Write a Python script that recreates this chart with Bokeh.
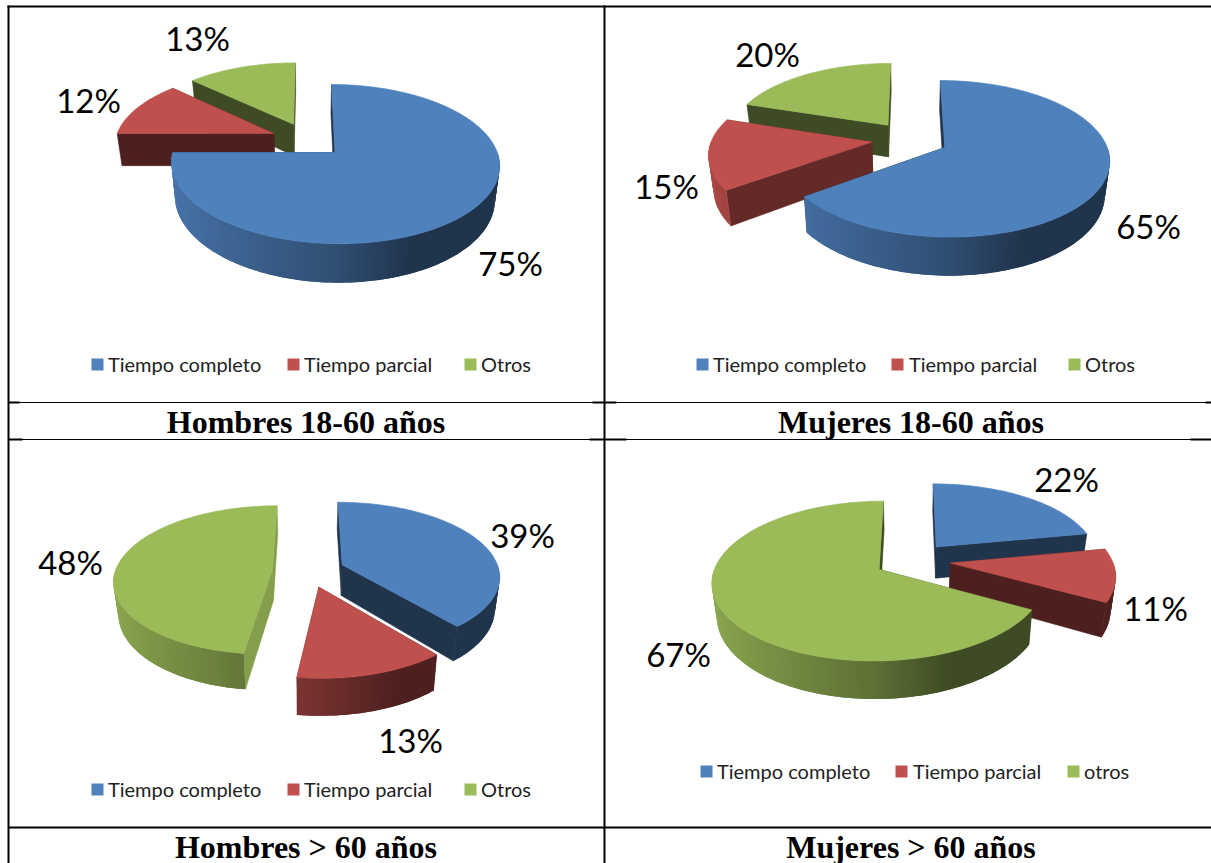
import math
from bokeh.plotting import figure
from bokeh.models import Range1d, ColumnDataSource
from bokeh.core.properties import value
from bokeh.embed import file_html
from bokeh.resources import INLINE

# ---------- data ----------
panel_titles = ["Hombres 18-60 años", "Mujeres 18-60 años", "Hombres > 60 años", "Mujeres > 60 años"]
series_names = ["Tiempo completo", "Tiempo parcial", "Otros"]
series_names_last = ["Tiempo completo", "Tiempo parcial", "otros"]
hombres_18_60 = [75, 12, 13]
mujeres_18_60 = [65, 15, 20]
hombres_60 = [39, 13, 48]
mujeres_60 = [22, 11, 67]
series_colors = ["#4F81BD", "#C0504D", "#9BBB59"]

# ---------- layout ----------
K = 0.142          # perspective strength
SHRINK = 0.975     # lower face is a little narrower
layout = [
    dict(vals=hombres_18_60, names=series_names, cx=307.5, cy=139.4, rx=158.5, ay=74.3, e=0.235, d=32.5,
         label_pos=[(510, 262.5), (88, 99.5), (197, 37.5)],
         leg_y=363, leg_sq=[97, 293, 470], leg_tx=[107.5, 303.5, 480.5], title=(305.5, 421)),
    dict(vals=mujeres_18_60, names=series_names, cx=909.5, cy=138.8, rx=160, ay=74.3, e=0.24, d=32.5,
         label_pos=[(1148, 225.5), (666, 185.5), (767, 53.5)],
         leg_y=363, leg_sq=[702, 897, 1074], leg_tx=[712.5, 908.5, 1084.5], title=(910.5, 421)),
    dict(vals=hombres_60, names=series_names, cx=308, cy=570, rx=157, ay=73, e=0.23, d=31,
         label_pos=[(522, 534.5), (410, 739.5), (70, 561.5)],
         leg_y=788, leg_sq=[97, 293, 470], leg_tx=[107.5, 303.5, 480.5], title=(305.5, 846)),
    dict(vals=mujeres_60, names=series_names_last, cx=912, cy=559.8, rx=162, ay=75.6, e=0.235, d=32,
         label_pos=[(1066, 478.5), (1155, 607.5), (678, 653.5)],
         leg_y=770, leg_sq=[706, 901, 1073], leg_tx=[716.5, 912.5, 1083.5], title=(910.5, 846)),
]
# radial faces that catch more light than the default dark tone: (panel, slice) -> factor
wall_light = {(2, 2): 0.85, (1, 1): 0.52}


def shade(col, f):
    r, g, b = [int(col[i:i + 2], 16) for i in (1, 3, 5)]
    return "#%02x%02x%02x" % (round(r * f), round(g * f), round(b * f))


def rim_factor(theta):
    s = math.sin(theta)
    if s >= 0.4:
        return 0.4
    if s >= 0:
        return 0.6 - 0.2 * s / 0.4
    return 0.6 + 0.3 * (-s)


xs, ys, fills, strokes = [], [], [], []


def add(poly, col, stroke=1.0):
    xs.append([q[0] for q in poly])
    ys.append([q[1] for q in poly])
    fills.append(col)
    strokes.append(stroke)


for pi, pie in enumerate(layout):
    cx, cy, rx, ay, e, d = pie["cx"], pie["cy"], pie["rx"], pie["ay"], pie["e"], pie["d"]

    def top(X, Y):
        w = 1 - K * Y
        return (cx + rx * X / w, cy + ay * Y / w)

    def low(X, Y):
        w = 1 - K * Y
        px, py = top(X, Y)
        return (cx + (px - cx) * SHRINK, py + d / w)

    total = sum(pie["vals"])
    slices = []
    start = 0.0
    for si, v in enumerate(pie["vals"]):
        sweep = 2 * math.pi * v / total
        mid = start + sweep / 2
        ox, oy = e * math.sin(mid), -e * math.cos(mid)
        slices.append((oy, si, start, start + sweep, ox))
        start += sweep
    for oy, si, a0, a1, ox in sorted(slices):
        col = series_colors[si]
        n = max(2, int((a1 - a0) / math.radians(1.5)))
        angs = [a0 + (a1 - a0) * j / n for j in range(n + 1)]
        rim = [(ox + math.sin(t), oy - math.cos(t)) for t in angs]
        wall = shade(col, wall_light.get((pi, si), 0.4))
        for edge in (rim[0], rim[-1]):
            add([top(ox, oy), top(*edge), low(*edge), low(ox, oy)], wall)
        vis = [j for j in range(n) if math.radians(90) < (angs[j] + angs[j + 1]) / 2 < math.radians(270)]
        for j in vis:
            mid_t = (angs[j] + angs[j + 1]) / 2
            # each band runs on under the next one so that no seam shows
            k = min(j + 2, vis[-1] + 1)
            band_top = [top(*q) for q in rim[j:k + 1]]
            band_low = [low(*q) for q in rim[j:k + 1]]
            add(band_top + band_low[::-1], shade(col, rim_factor(mid_t)), 0.0)
        add([top(ox, oy)] + [top(*q) for q in rim], col)

p = figure(width=1211, height=863, x_range=Range1d(0, 1211), y_range=Range1d(863, 0),
           output_backend="svg", toolbar_location=None, min_border=0,
           outline_line_color=None, background_fill_color="white", border_fill_color="white",
           styles={"position": "absolute", "left": "0px", "top": "0px"})
p.axis.visible = False
p.grid.visible = False

p.patches("xs", "ys", source=ColumnDataSource(dict(xs=xs, ys=ys, fill=fills, stroke=strokes)),
          fill_color="fill", line_color="fill", line_alpha="stroke", line_width=0.6)

# table rules
rules = [([8, 8], [5, 863], 2), ([604, 604], [5, 863], 2), ([7, 1211], [6, 6], 2),
         ([8, 1211], [402, 402], 1), ([8, 1211], [439, 439], 1), ([8, 1211], [827, 827], 2),
         ([8, 19], [402, 402], 2), ([592, 616], [402, 402], 2), ([1205, 1211], [402, 402], 2),
         ([8, 22], [439, 439], 2), ([589, 626], [439, 439], 2), ([1190, 1211], [439, 439], 2)]
for rx_, ry_, w_ in rules:
    p.line(rx_, ry_, line_color="black", line_width=w_)

# data labels, legends, titles
lab_x, lab_y, lab_t = [], [], []
leg_x, leg_y, leg_t = [], [], []
sq_x, sq_y, sq_c = [], [], []
tit_x, tit_y = [], []
for pie in layout:
    for v, pos in zip(pie["vals"], pie["label_pos"]):
        lab_x.append(pos[0]); lab_y.append(pos[1]); lab_t.append(f"{v}%")
    for i, nm in enumerate(pie["names"]):
        sq_x.append(pie["leg_sq"][i]); sq_y.append(pie["leg_y"] + 1); sq_c.append(series_colors[i])
        leg_x.append(pie["leg_tx"][i]); leg_y.append(pie["leg_y"]); leg_t.append(nm)
    tit_x.append(pie["title"][0]); tit_y.append(pie["title"][1])

p.text(lab_x, lab_y, text=lab_t, text_font=value("Lato"), text_font_size=value("33px"),
       text_color="black", text_align="center", text_baseline="middle")
p.scatter(sq_x, sq_y, marker="square", size=12, fill_color=sq_c, line_color=None)
p.text(leg_x, leg_y, text=leg_t, text_font=value("Lato"), text_font_size=value("20px"),
       text_color="#222222", text_align="left", text_baseline="middle")
p.text(tit_x, tit_y, text=panel_titles, text_font=value("Liberation Serif"),
       text_font_style="bold", text_font_size=value("32px"), text_color="black",
       text_align="center", text_baseline="middle")

open("out.html", "w").write(file_html(p, INLINE))
